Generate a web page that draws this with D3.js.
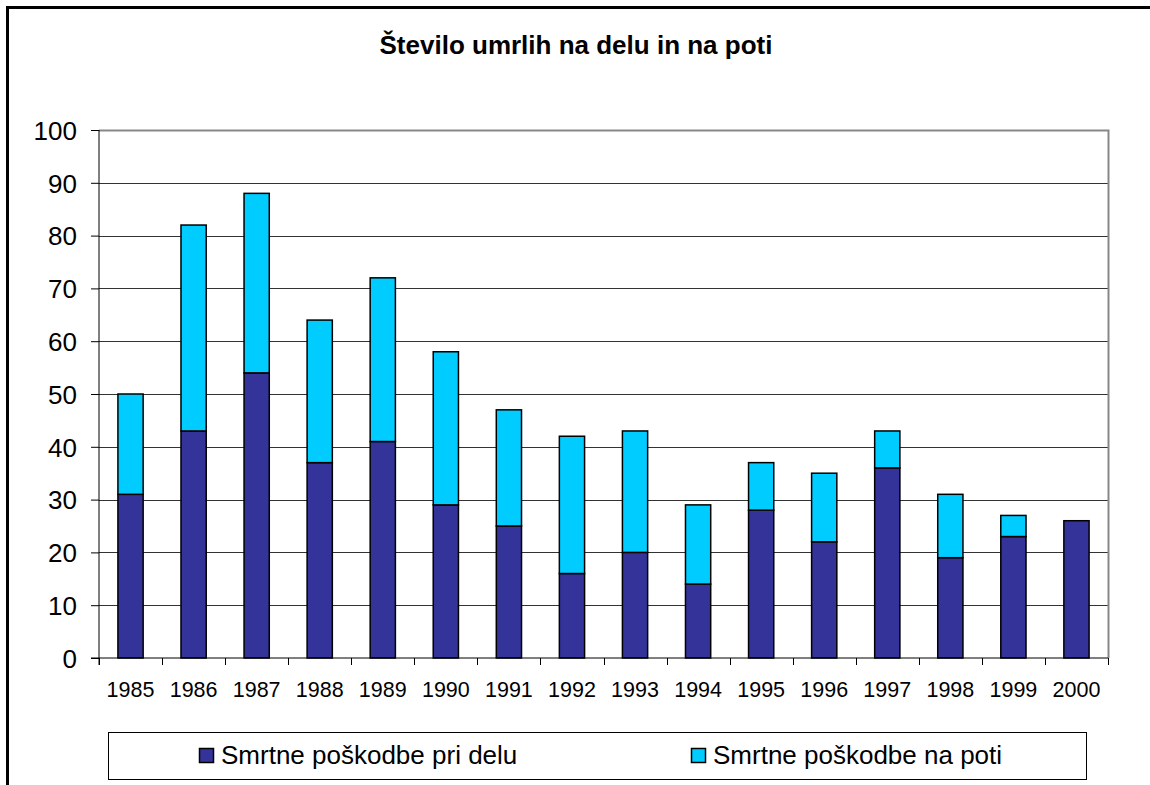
<!DOCTYPE html>
<html>
<head>
<meta charset="utf-8">
<script src="https://cdn.jsdelivr.net/npm/d3@7"></script>
<style>
  html, body { margin: 0; padding: 0; background: #fff; }
  svg { display: block; font-family: Arial, "Liberation Sans", sans-serif; }
</style>
</head>
<body>
<div id="chart"></div>
<script>
// data
const years = ["1985", "1986", "1987", "1988", "1989", "1990", "1991", "1992",
               "1993", "1994", "1995", "1996", "1997", "1998", "1999", "2000"];
const priDelu = [31, 43, 54, 37, 41, 29, 25, 16, 20, 14, 28, 22, 36, 19, 23, 26];
const naPoti  = [19, 39, 34, 27, 31, 29, 22, 26, 23, 15, 9, 13, 7, 12, 4, 0];
const seriesNames = ["Smrtne poškodbe pri delu", "Smrtne poškodbe na poti"];
const seriesColors = ["#333399", "#00ccff"];
const yTicks = [0, 10, 20, 30, 40, 50, 60, 70, 80, 90, 100];
const title = "Število umrlih na delu in na poti";

const W = 1150, H = 785;
const margin = { top: 130, right: 42, bottom: 127, left: 99 };
const innerW = W - margin.left - margin.right;
const innerH = H - margin.top - margin.bottom;

const svg = d3.select("#chart").append("svg")
    .attr("width", W)
    .attr("height", H);

// outer frame (only left/top visible in the picture)
svg.append("rect")
    .attr("x", 7.5).attr("y", 7.5)
    .attr("width", W + 20).attr("height", H + 20)
    .attr("fill", "#fff")
    .attr("stroke", "#000")
    .attr("stroke-width", 3);

svg.append("text")
    .attr("x", 576).attr("y", 54)
    .attr("text-anchor", "middle")
    .attr("font-size", 26)
    .attr("font-weight", "bold")
    .text(title);

const table = years.map((y, i) => ({ year: y, a: priDelu[i], b: naPoti[i] }));
const stacked = d3.stack().keys(["a", "b"])(table);

const x = d3.scaleBand()
    .domain(years)
    .range([0, innerW])
    .paddingInner(0.6)
    .paddingOuter(0.3);

const y = d3.scaleLinear()
    .domain([0, 100])
    .range([innerH, 0]);

const g = svg.append("g")
    .attr("transform", `translate(${margin.left},${margin.top})`);

// gridlines
g.append("g")
    .selectAll("line")
    .data(yTicks.filter(d => d > 0 && d < 100))
    .join("line")
    .attr("x1", 0).attr("x2", innerW)
    .attr("y1", d => Math.round(y(d)) + 0.5)
    .attr("y2", d => Math.round(y(d)) + 0.5)
    .attr("stroke", "#333")
    .attr("stroke-width", 1);

// plot-area border (top and right, gray)
g.append("path")
    .attr("d", `M0,${y(100) + 0.5}H${innerW + 0.5}V${innerH}`)
    .attr("fill", "none")
    .attr("stroke", "#888")
    .attr("stroke-width", 2);

// bars
g.append("g")
    .selectAll("g")
    .data(stacked)
    .join("g")
    .attr("fill", (d, i) => seriesColors[i])
    .selectAll("rect")
    .data(d => d.filter(p => p[1] - p[0] > 0))
    .join("rect")
    .attr("x", d => x(d.data.year))
    .attr("y", d => y(d[1]))
    .attr("width", x.bandwidth())
    .attr("height", d => y(d[0]) - y(d[1]))
    .attr("stroke", "#000")
    .attr("stroke-width", 1.5);

// y axis
const yAxis = g.append("g")
    .call(d3.axisLeft(y).tickValues(yTicks).tickSize(8).tickPadding(14));
yAxis.select(".domain").attr("stroke", "#000").attr("d", `M0,0V${innerH + 7}`);
yAxis.selectAll(".tick line").attr("stroke", "#000");
yAxis.selectAll("text")
    .attr("font-size", 26)
    .attr("font-family", "Arial, 'Liberation Sans', sans-serif")
    .attr("fill", "#000")
    .attr("dy", "0.36em");

// x axis: ticks on category boundaries
const step = x.step();
const xAxisG = g.append("g").attr("transform", `translate(0,${innerH})`);
xAxisG.append("line")
    .attr("x1", -8).attr("x2", innerW)
    .attr("stroke", "#000");
xAxisG.selectAll("line.tk")
    .data(d3.range(years.length + 1))
    .join("line")
    .attr("class", "tk")
    .attr("x1", i => Math.round(i * step) + 0.5)
    .attr("x2", i => Math.round(i * step) + 0.5)
    .attr("y1", 0).attr("y2", 7)
    .attr("stroke", "#000");
xAxisG.selectAll("text")
    .data(years)
    .join("text")
    .attr("x", d => x(d) + x.bandwidth() / 2)
    .attr("y", 39)
    .attr("text-anchor", "middle")
    .attr("font-size", 21.5)
    .text(d => d);

// legend
const legend = svg.append("g");
legend.append("rect")
    .attr("x", 108.5).attr("y", 732.5)
    .attr("width", 978).attr("height", 47)
    .attr("fill", "#fff")
    .attr("stroke", "#000")
    .attr("stroke-width", 1);
const legendX = [199, 691];
const items = legend.selectAll("g.item")
    .data(seriesNames)
    .join("g")
    .attr("class", "item")
    .attr("transform", (d, i) => `translate(${legendX[i]},748)`);
items.append("rect")
    .attr("x", 0.5).attr("y", 0.5)
    .attr("width", 14).attr("height", 14)
    .attr("fill", (d, i) => seriesColors[i])
    .attr("stroke", "#000")
    .attr("stroke-width", 1.5);
items.append("text")
    .attr("x", 22).attr("y", 16)
    .attr("font-size", 26)
    .text(d => d);
</script>
</body>
</html>
